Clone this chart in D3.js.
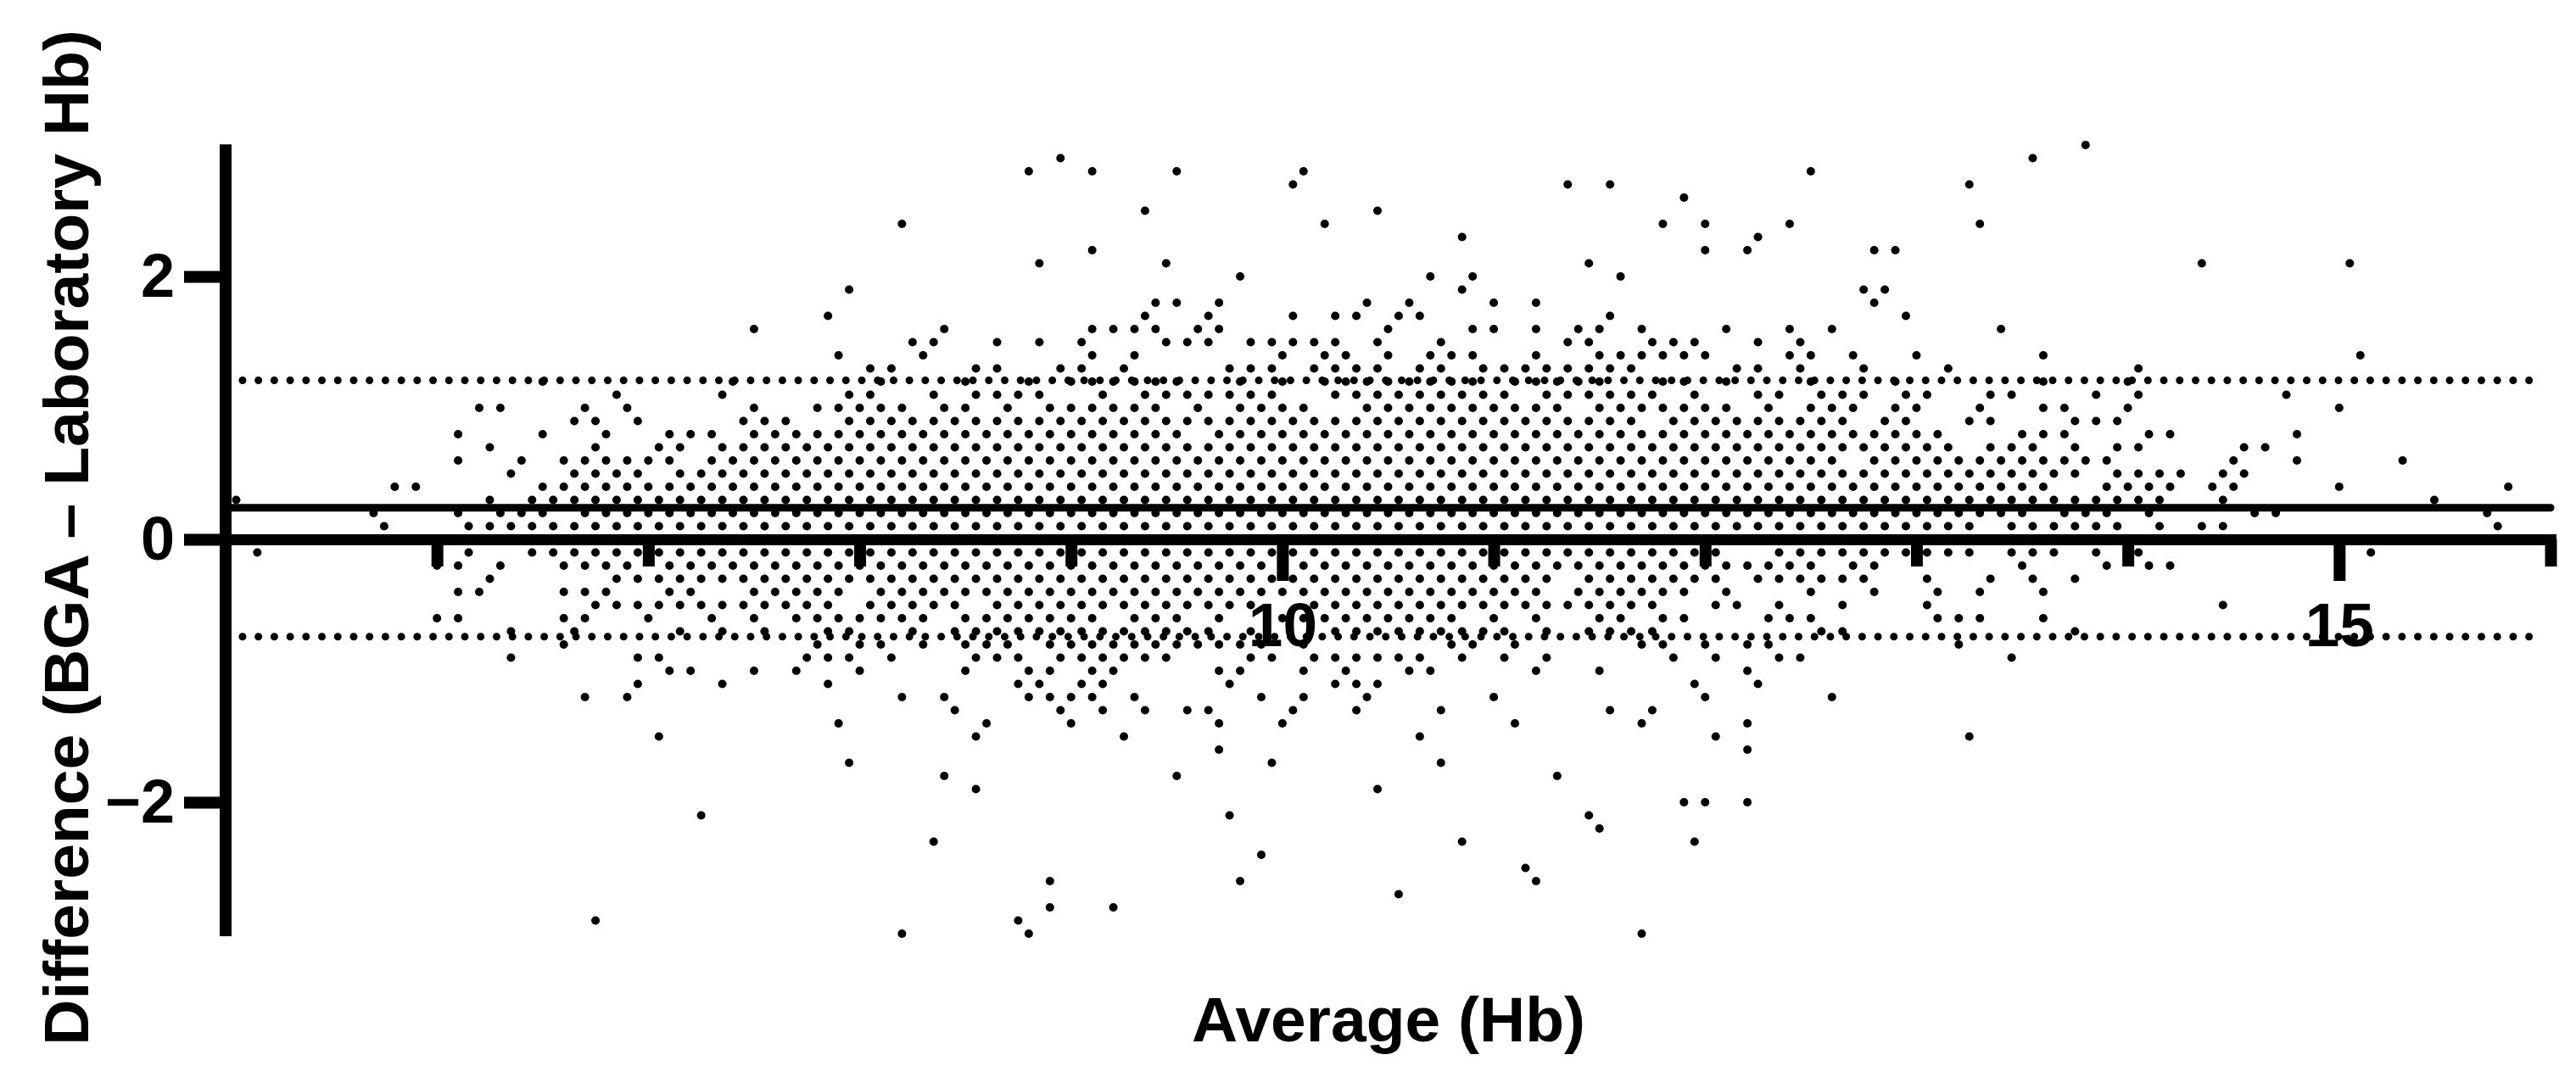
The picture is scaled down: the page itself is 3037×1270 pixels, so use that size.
<!DOCTYPE html>
<html>
<head>
<meta charset="utf-8">
<script src="https://cdn.jsdelivr.net/npm/d3@7/dist/d3.min.js"></script>
<style>
html,body{margin:0;padding:0;background:#fff;}
svg{display:block;}
text{font-family:"Liberation Sans",Arial,sans-serif;font-weight:700;fill:#000;}
</style>
</head>
<body>
<svg id="chart" width="3037" height="1270"></svg>
<script>
// Average (Hb) readings for each Difference value
const avgP30 = [13.8];
const avgP29 = [8.95,13.55];
const avgP28 = [8.8,9.1,9.5,10.1,12.5];
const avgP27 = [10.05,11.35,11.55,13.25];
const avgP26 = [11.9];
const avgP25 = [9.35,10.45];
const avgP24 = [8.2,10.2,11.8,12.0,12.4,13.3];
const avgP23 = [10.85,12.25];
const avgP22 = [9.1,12.0,12.2,12.8,12.9];
const avgP21 = [8.85,9.45,11.45,14.35,15.05];
const avgP20 = [9.8,10.7,10.9,11.6];
const avgP19 = [7.95,10.85,12.75,12.85];
const avgP18 = [9.4,9.5,9.7,10.4,10.6,11.0,11.2,12.8];
const avgP17 = [7.85,9.35,9.65,10.05,10.25,10.35,10.55,10.65,11.55,12.95];
const avgP16 = [7.5,8.4,9.1,9.2,9.3,9.4,9.6,9.7,10.5,10.9,11.0,11.2,11.4,11.5,11.7,12.1,12.4,12.6,13.4];
const avgP15 = [8.25,8.35,8.65,8.85,9.05,9.45,9.55,9.65,9.85,9.95,10.05,10.15,10.25,10.45,10.75,11.35,11.45,11.75,11.85,11.95,12.25,12.45];
const avgP14 = [7.9,8.3,9.1,9.3,10.0,10.2,10.3,10.5,10.7,10.8,10.9,11.2,11.5,11.6,11.7,11.8,11.9,12.0,12.4,12.5,12.7,13.0,13.6,15.1];
const avgP13 = [8.05,8.15,8.55,8.65,8.95,9.05,9.25,9.75,9.85,9.95,10.15,10.25,10.35,10.45,10.65,10.75,10.95,11.05,11.15,11.25,11.35,11.45,11.55,11.65,12.15,12.25,12.45,12.75,13.15,14.05];
const avgP12 = [6.5,7.4,8.1,8.5,8.8,9.0,9.1,9.2,9.3,9.4,9.5,9.8,10.0,10.2,10.3,10.4,10.5,10.6,10.7,10.8,10.9,11.1,11.2,11.3,11.4,11.5,11.8,11.9,12.1,12.5,12.9,13.6,14.0];
const avgP11 = [6.85,7.35,7.95,8.05,8.35,8.55,8.65,8.75,8.85,9.15,9.35,9.45,9.55,9.65,9.75,9.85,9.95,10.25,10.35,10.45,10.55,10.65,10.75,10.85,10.95,11.05,11.25,11.35,11.45,11.55,11.65,11.75,11.95,12.25,12.35,12.55,12.65,12.75,12.95,13.05,13.35,13.45,13.85,14.05,14.75];
const avgP10 = [6.2,6.3,6.7,6.9,7.5,7.8,7.9,8.0,8.1,8.2,8.4,8.5,8.7,8.9,9.0,9.1,9.2,9.3,9.4,9.6,9.8,9.9,10.0,10.1,10.4,10.5,10.6,10.7,10.8,10.9,11.0,11.1,11.2,11.3,11.5,11.6,11.7,11.8,11.9,12.0,12.1,12.3,12.5,12.6,12.7,12.9,13.0,13.3,13.6,13.7,14.0,15.0];
const avgP09 = [6.65,6.75,6.95,7.45,7.55,7.65,7.95,8.05,8.15,8.25,8.35,8.45,8.55,8.65,8.75,8.85,8.95,9.05,9.15,9.25,9.35,9.45,9.55,9.65,9.75,9.85,9.95,10.05,10.15,10.25,10.35,10.45,10.55,10.65,10.75,10.85,10.95,11.05,11.15,11.25,11.35,11.45,11.55,11.65,11.85,11.95,12.05,12.15,12.25,12.35,12.45,12.55,12.65,12.85,12.95,13.25,13.35,13.75,13.85,13.95];
const avgP08 = [6.1,6.5,6.8,7.1,7.2,7.3,7.5,7.6,7.7,7.8,7.9,8.0,8.1,8.2,8.3,8.4,8.5,8.6,8.7,8.8,8.9,9.0,9.1,9.2,9.3,9.4,9.5,9.7,9.8,9.9,10.0,10.1,10.2,10.3,10.4,10.5,10.6,10.7,10.8,10.9,11.0,11.1,11.2,11.3,11.4,11.5,11.6,11.7,11.8,11.9,12.0,12.1,12.2,12.3,12.4,12.5,12.6,12.7,12.8,12.9,13.0,13.1,13.5,13.6,13.7,14.1,14.2,14.8];
const avgP07 = [6.25,6.75,7.05,7.15,7.35,7.45,7.55,7.65,7.75,7.85,7.95,8.05,8.15,8.25,8.35,8.45,8.55,8.65,8.75,8.85,8.95,9.05,9.15,9.25,9.35,9.45,9.55,9.65,9.75,9.85,9.95,10.05,10.15,10.25,10.35,10.45,10.55,10.65,10.75,10.85,10.95,11.05,11.15,11.25,11.35,11.45,11.55,11.65,11.75,11.85,11.95,12.05,12.15,12.25,12.35,12.45,12.55,12.65,12.75,12.85,12.95,13.05,13.15,13.35,13.45,13.55,13.75,13.95,14.05,14.55,14.65];
const avgP06 = [6.1,6.4,6.6,6.7,6.8,6.9,7.0,7.1,7.3,7.4,7.5,7.6,7.7,7.8,7.9,8.0,8.1,8.2,8.3,8.4,8.5,8.6,8.7,8.8,8.9,9.0,9.1,9.2,9.3,9.4,9.5,9.6,9.7,9.8,9.9,10.0,10.1,10.2,10.3,10.4,10.5,10.6,10.7,10.8,10.9,11.0,11.1,11.2,11.3,11.4,11.5,11.6,11.7,11.8,11.9,12.0,12.1,12.2,12.3,12.4,12.5,12.6,12.8,12.9,13.0,13.1,13.2,13.3,13.4,13.5,13.6,13.7,13.8,13.9,14.5,14.8,15.3];
const avgP05 = [6.35,6.65,6.75,6.85,6.95,7.15,7.25,7.35,7.45,7.55,7.65,7.75,7.85,7.95,8.05,8.15,8.25,8.35,8.45,8.55,8.65,8.75,8.85,8.95,9.05,9.15,9.25,9.35,9.45,9.55,9.65,9.75,9.85,9.95,10.05,10.15,10.25,10.35,10.45,10.55,10.65,10.75,10.85,10.95,11.05,11.15,11.25,11.35,11.45,11.55,11.65,11.75,11.85,11.95,12.05,12.15,12.25,12.35,12.45,12.55,12.65,12.75,12.85,12.95,13.05,13.15,13.25,13.35,13.45,13.55,13.65,13.75,13.95,14.05,14.15,14.25,14.45,14.55];
const avgP04 = [5.8,5.9,6.5,6.6,6.7,6.8,6.9,7.0,7.1,7.2,7.3,7.4,7.5,7.6,7.7,7.8,7.9,8.0,8.1,8.2,8.3,8.4,8.5,8.6,8.7,8.8,8.9,9.0,9.1,9.2,9.3,9.4,9.5,9.6,9.7,9.8,9.9,10.0,10.1,10.2,10.3,10.4,10.5,10.6,10.7,10.8,10.9,11.0,11.1,11.2,11.3,11.4,11.5,11.6,11.7,11.8,11.9,12.0,12.1,12.2,12.3,12.4,12.5,12.6,12.7,12.8,12.9,13.0,13.1,13.2,13.3,13.4,13.5,13.6,13.9,14.0,14.1,14.2,14.4,14.5,15.0,15.8];
const avgP03 = [5.05,6.25,6.45,6.55,6.65,6.75,6.85,6.95,7.05,7.15,7.25,7.35,7.45,7.55,7.65,7.75,7.85,7.95,8.05,8.15,8.25,8.35,8.45,8.55,8.65,8.75,8.85,8.95,9.05,9.15,9.25,9.35,9.45,9.55,9.65,9.75,9.85,9.95,10.05,10.15,10.25,10.35,10.45,10.55,10.65,10.75,10.85,10.95,11.05,11.15,11.25,11.35,11.45,11.55,11.65,11.75,11.85,11.95,12.05,12.15,12.25,12.35,12.45,12.55,12.65,12.75,12.85,12.95,13.05,13.15,13.25,13.35,13.45,13.55,13.65,13.75,13.85,13.95,14.05,14.15,14.45,15.45];
const avgP02 = [5.7,6.1,6.3,6.4,6.5,6.7,6.8,6.9,7.0,7.1,7.2,7.3,7.4,7.5,7.6,7.7,7.8,7.9,8.0,8.1,8.2,8.3,8.4,8.5,8.6,8.7,8.8,8.9,9.0,9.1,9.2,9.3,9.4,9.5,9.6,9.7,9.8,9.9,10.0,10.1,10.2,10.3,10.4,10.5,10.6,10.7,10.8,10.9,11.0,11.1,11.2,11.3,11.4,11.5,11.6,11.7,11.8,11.9,12.0,12.1,12.2,12.3,12.4,12.5,12.6,12.7,12.8,12.9,13.0,13.1,13.2,13.3,13.4,13.5,13.7,13.8,13.9,14.1,14.6,14.7,15.7];
const avgP01 = [5.75,6.15,6.25,6.35,6.45,6.55,6.65,6.75,6.85,6.95,7.05,7.15,7.25,7.35,7.45,7.55,7.65,7.75,7.85,7.95,8.05,8.15,8.25,8.35,8.45,8.55,8.65,8.75,8.85,8.95,9.05,9.15,9.25,9.35,9.45,9.55,9.65,9.75,9.85,9.95,10.05,10.15,10.25,10.35,10.45,10.55,10.65,10.75,10.85,10.95,11.05,11.15,11.25,11.35,11.45,11.55,11.65,11.75,11.85,11.95,12.05,12.15,12.25,12.35,12.45,12.55,12.65,12.75,12.85,12.95,13.05,13.15,13.25,13.45,13.55,13.65,13.75,13.85,13.95,14.15,14.35,14.45,15.75];
const avgM01 = [5.15,6.15,6.45,6.55,6.65,6.75,6.85,6.95,7.05,7.15,7.25,7.35,7.45,7.55,7.65,7.75,7.85,7.95,8.05,8.15,8.25,8.35,8.45,8.55,8.65,8.75,8.85,8.95,9.05,9.15,9.25,9.35,9.45,9.55,9.65,9.75,9.85,9.95,10.05,10.15,10.25,10.35,10.45,10.55,10.65,10.75,10.85,10.95,11.05,11.15,11.25,11.35,11.45,11.55,11.65,11.75,11.85,11.95,12.05,12.35,12.45,12.55,12.65,12.75,12.85,12.95,13.05,13.15,13.25,13.45,13.55,13.65,13.85,14.05,15.15];
const avgM02 = [6.0,6.1,6.3,6.6,6.7,6.8,6.9,7.1,7.2,7.3,7.4,7.5,7.6,7.7,7.8,7.9,8.0,8.1,8.2,8.3,8.4,8.5,8.6,8.7,8.8,8.9,9.0,9.1,9.2,9.3,9.4,9.5,9.6,9.7,9.8,9.9,10.0,10.1,10.2,10.3,10.4,10.5,10.6,10.7,10.8,10.9,11.0,11.1,11.2,11.3,11.4,11.5,11.6,11.7,11.8,11.9,12.0,12.1,12.2,12.3,12.4,12.5,12.7,12.8,13.5,13.9,14.1,14.2];
const avgM03 = [6.25,6.85,6.95,7.05,7.15,7.25,7.35,7.45,7.55,7.65,7.75,7.85,7.95,8.05,8.15,8.25,8.35,8.45,8.55,8.65,8.75,8.85,8.95,9.05,9.15,9.25,9.35,9.45,9.55,9.65,9.75,9.85,9.95,10.05,10.15,10.25,10.35,10.45,10.55,10.65,10.75,10.85,10.95,11.05,11.15,11.25,11.45,11.55,11.65,11.75,11.85,11.95,12.05,12.25,12.35,12.45,12.55,12.65,12.75,13.05,13.35,13.55,13.75];
const avgM04 = [6.1,6.2,6.6,6.7,6.8,7.1,7.2,7.5,7.6,7.7,7.8,7.9,8.1,8.2,8.3,8.4,8.5,8.6,8.7,8.8,8.9,9.0,9.1,9.2,9.3,9.4,9.5,9.6,9.7,9.8,9.9,10.0,10.1,10.2,10.3,10.4,10.5,10.6,10.7,10.8,10.9,11.0,11.1,11.2,11.4,11.5,11.6,11.7,11.8,11.9,12.1,12.5,12.8,13.1,13.3,13.6];
const avgM05 = [6.75,6.85,6.95,7.05,7.15,7.25,7.35,7.45,7.55,7.65,7.75,7.85,8.05,8.15,8.25,8.35,8.45,8.65,8.75,8.85,8.95,9.05,9.15,9.25,9.35,9.45,9.55,9.65,9.75,9.85,10.15,10.25,10.35,10.45,10.55,10.65,10.75,10.85,10.95,11.05,11.15,11.25,11.35,11.45,11.55,11.65,11.75,12.05,12.15,12.35,12.65,13.05,14.45];
const avgM06 = [6.0,6.1,6.6,6.7,7.0,7.3,7.5,7.7,7.8,7.9,8.0,8.1,8.2,8.3,8.5,8.6,8.7,8.8,8.9,9.0,9.1,9.3,9.4,9.5,9.7,10.0,10.1,10.2,10.3,10.4,10.5,10.6,10.7,10.8,11.0,11.2,11.5,11.6,11.8,11.9,12.3,12.4,12.5,13.1,13.2,13.3,13.6];
const avgM07 = [6.35,6.65,7.15,7.35,7.55,7.85,7.95,8.25,8.45,8.55,8.65,8.75,8.85,8.95,9.05,9.15,9.25,9.35,9.45,9.55,9.65,9.85,10.25,10.35,10.45,10.55,10.65,10.75,10.85,10.95,11.05,11.25,11.45,11.55,11.65,11.75,12.55,12.65,13.75];
const avgM08 = [6.6,7.8,8.0,8.1,8.3,8.5,8.6,8.7,8.9,9.0,9.1,9.2,9.3,9.4,9.5,9.6,9.7,9.8,9.9,10.1,10.8,10.9,11.1,11.7,11.8,12.0,12.2,12.3,13.2];
const avgM09 = [6.35,6.95,7.05,7.75,7.85,7.95,8.15,8.55,8.65,8.75,8.95,9.05,9.15,9.25,9.35,9.45,9.85,9.95,10.15,10.25,10.35,10.45,10.55,10.65,10.85,11.05,11.25,11.85,12.05,12.35,12.45,13.45];
const avgM10 = [7.1,7.2,7.5,7.7,8.0,8.5,8.8,8.9,9.1,9.2,9.7,9.8,10.1,10.3,10.6,10.7,11.2,11.5,12.2];
const avgM11 = [6.95,7.35,7.85,8.75,8.85,9.05,9.15,9.75,10.25,10.35,10.45,11.95,12.25];
const avgM12 = [6.7,6.9,8.2,8.4,8.8,8.9,9.0,9.1,9.3,9.9,10.1,10.4,11.0,12.0,12.6];
const avgM13 = [8.45,8.95,9.15,9.35,9.55,9.65,10.05,10.35,10.75,11.55,11.75];
const avgM14 = [7.9,8.6,9.0,9.7,10.0,11.1,11.7,12.2];
const avgM15 = [7.05,8.55,9.25,10.65,12.05,13.25];
const avgM16 = [9.7,12.2];
const avgM17 = [7.95,9.95,10.75];
const avgM18 = [8.4,9.5,11.3];
const avgM19 = [8.55,10.45];
const avgM20 = [11.9,12.0,12.2];
const avgM21 = [7.25,9.75,11.45];
const avgM22 = [11.5];
const avgM23 = [8.35,10.85,11.95];
const avgM24 = [9.9];
const avgM25 = [11.15];
const avgM26 = [8.9,9.8,11.2];
const avgM27 = [10.55];
const avgM28 = [8.9,9.2];
const avgM29 = [6.75,8.75];
const avgM30 = [8.2,8.8,11.7];

const diffRows = [
  [3.0,avgP30],[2.9,avgP29],[2.8,avgP28],[2.7,avgP27],[2.6,avgP26],[2.5,avgP25],[2.4,avgP24],[2.3,avgP23],
  [2.2,avgP22],[2.1,avgP21],[2.0,avgP20],[1.9,avgP19],[1.8,avgP18],[1.7,avgP17],[1.6,avgP16],[1.5,avgP15],
  [1.4,avgP14],[1.3,avgP13],[1.2,avgP12],[1.1,avgP11],[1.0,avgP10],[0.9,avgP09],[0.8,avgP08],[0.7,avgP07],
  [0.6,avgP06],[0.5,avgP05],[0.4,avgP04],[0.3,avgP03],[0.2,avgP02],[0.1,avgP01],
  [-0.1,avgM01],[-0.2,avgM02],[-0.3,avgM03],[-0.4,avgM04],[-0.5,avgM05],[-0.6,avgM06],[-0.7,avgM07],[-0.8,avgM08],
  [-0.9,avgM09],[-1.0,avgM10],[-1.1,avgM11],[-1.2,avgM12],[-1.3,avgM13],[-1.4,avgM14],[-1.5,avgM15],[-1.6,avgM16],
  [-1.7,avgM17],[-1.8,avgM18],[-1.9,avgM19],[-2.0,avgM20],[-2.1,avgM21],[-2.2,avgM22],[-2.3,avgM23],[-2.4,avgM24],
  [-2.5,avgM25],[-2.6,avgM26],[-2.7,avgM27],[-2.8,avgM28],[-2.9,avgM29],[-3.0,avgM30]
];

const meanDiff = 0.24;
const limitsOfAgreement = [1.21, -0.74];
const xTickValues = [6,7,8,9,10,11,12,13,14,15,16];
const xLabelled = [10,15];
const yTickValues = [-2,0,2];
const xTitle = "Average (Hb)";
const yTitle = "Difference (BGA \u2013 Laboratory Hb)";

const points = diffRows.flatMap(([d, avgs]) => avgs.map(a => ({avg:a, diff:d})));

const svg = d3.select("#chart");
const x = d3.scaleLinear().domain([5,16]).range([266, 3007]);
const y = d3.scaleLinear().domain([-3,3]).range([1101, 171]);

// points
svg.append("g").selectAll("circle").data(points).join("circle")
  .attr("cx", d => x(d.avg)).attr("cy", d => y(d.diff)).attr("r", 5).attr("fill", "#000");

// limits of agreement
svg.append("g").selectAll("line").data(limitsOfAgreement).join("line")
  .attr("x1", x(5.08)).attr("x2", x(15.93))
  .attr("y1", d => y(d)).attr("y2", d => y(d))
  .attr("stroke", "#000").attr("stroke-width", 9)
  .attr("stroke-linecap", "round").attr("stroke-dasharray", "0 18.72");

// mean line
svg.append("line")
  .attr("x1", x(5)).attr("x2", x(16))
  .attr("y1", y(meanDiff)).attr("y2", y(meanDiff))
  .attr("stroke", "#000").attr("stroke-width", 9).attr("stroke-linecap", "round");

// x axis on the zero line
const gx = svg.append("g").attr("transform", `translate(0,${y(0)})`)
  .call(d3.axisBottom(x).tickValues(xTickValues).tickSizeOuter(0)
    .tickFormat(d => xLabelled.includes(d) ? String(d) : ""));
gx.select(".domain").attr("stroke", "#000").attr("stroke-width", 13).attr("stroke-linecap", "square");
gx.selectAll(".tick line").attr("stroke", "#000").attr("stroke-width", 14)
  .attr("y2", d => xLabelled.includes(d) ? 49 : 32);
gx.selectAll(".tick text").attr("y", 126).attr("dy", 0)
  .style("font-size", "73px").style("font-family", '"Liberation Sans",Arial,sans-serif').style("font-weight", 700);

// y axis
const gy = svg.append("g").attr("transform", `translate(${x(5)},0)`)
  .call(d3.axisLeft(y).tickValues(yTickValues).tickSizeOuter(0).tickSize(49).tickPadding(11)
    .tickFormat(d => d < 0 ? "\u2212" + Math.abs(d) : String(d)));
gy.select(".domain").attr("stroke", "#000").attr("stroke-width", 14)
  .attr("d", `M0,${y(3.005)}V${y(-3.02)}`);
gy.selectAll(".tick line").attr("stroke", "#000").attr("stroke-width", 14);
gy.selectAll(".tick text")
  .style("font-size", "72px").style("font-family", '"Liberation Sans",Arial,sans-serif').style("font-weight", 700);

// titles
svg.append("text").attr("x", 1637).attr("y", 1228).attr("text-anchor", "middle")
  .style("font-size", "75px").text(xTitle);
svg.append("text").attr("transform", "translate(104,634) rotate(-90)").attr("text-anchor", "middle")
  .style("font-size", "75px").text(yTitle);
</script>
</body>
</html>
